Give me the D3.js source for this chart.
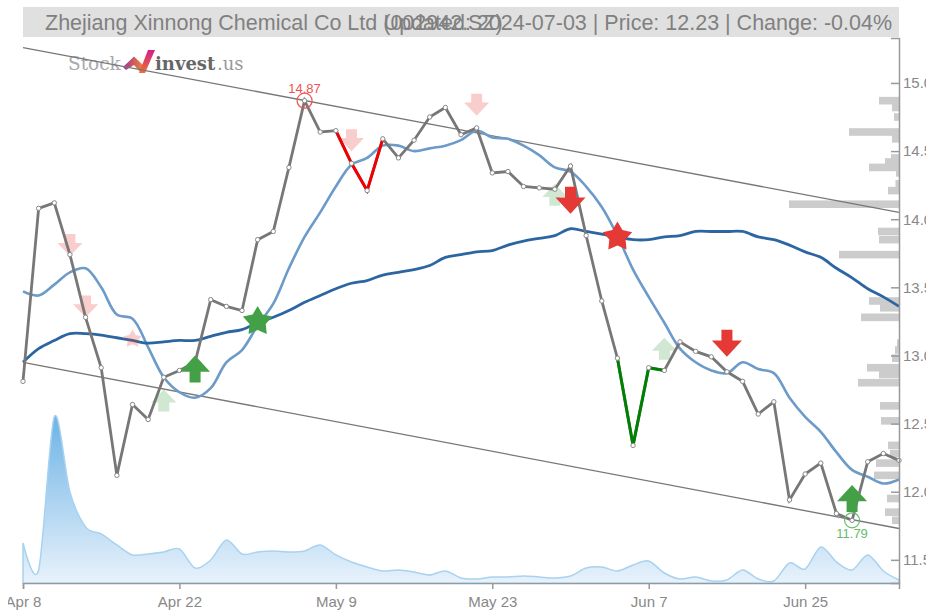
<!DOCTYPE html>
<html>
<head>
<meta charset="utf-8">
<style>
  html, body { margin: 0; padding: 0; background: #fff; }
  svg { display: block; font-family: "Liberation Sans", sans-serif; }
  .axis text { fill: #888; font-size: 15px; }
  .axis path, .axis line { stroke: #999; stroke-width: 1.5px; }
</style>
</head>
<body>
<div id="canvas"></div>
<script src="https://cdn.jsdelivr.net/npm/d3@7"></script>
<script>
const tickIndex = [0, 10, 20, 30, 40, 50]
const tickLabels = ["Apr 8", "Apr 22", "May 9", "May 23", "Jun 7", "Jun 25"]
const priceTicks = [11.5, 12, 12.5, 13, 13.5, 14, 14.5, 15]

const close = [12.81, 14.08, 14.12, 13.74, 13.28, 12.91, 12.12, 12.64, 12.53, 12.84,
    12.89, 12.95, 13.41, 13.36, 13.33, 13.85, 13.91, 14.38, 14.87, 14.64,
    14.65, 14.41, 14.21, 14.59, 14.45, 14.58, 14.75, 14.82, 14.62, 14.67,
    14.34, 14.35, 14.24, 14.23, 14.22, 14.39, 13.88, 13.40, 12.98, 12.34,
    12.91, 12.89, 13.10, 13.03, 12.99, 12.88, 12.81, 12.57, 12.66, 11.94,
    12.13, 12.21, 11.84, 11.79, 12.22, 12.28, 12.23]

const maFast = [13.47, 13.44, 13.52, 13.61, 13.64, 13.50, 13.30, 13.27, 13.06, 12.84,
    12.73, 12.69, 12.76, 12.95, 13.04, 13.22, 13.38, 13.64, 13.87, 14.05,
    14.24, 14.40, 14.45, 14.54, 14.54, 14.50, 14.52, 14.54, 14.58, 14.65,
    14.60, 14.59, 14.54, 14.47, 14.38, 14.35, 14.24, 14.09, 13.88, 13.63,
    13.43, 13.24, 13.05, 12.95, 12.89, 12.87, 12.95, 12.90, 12.87, 12.69,
    12.55, 12.44, 12.29, 12.16, 12.11, 12.06, 12.09]

const maSlow = [12.95, 13.05, 13.11, 13.16, 13.16, 13.15, 13.13, 13.11, 13.09, 13.10,
    13.11, 13.11, 13.14, 13.17, 13.19, 13.24, 13.28, 13.33, 13.39, 13.44,
    13.49, 13.53, 13.55, 13.59, 13.61, 13.63, 13.66, 13.72, 13.74, 13.76,
    13.77, 13.81, 13.84, 13.86, 13.88, 13.93, 13.91, 13.89, 13.87, 13.85,
    13.85, 13.87, 13.88, 13.91, 13.91, 13.91, 13.91, 13.87, 13.85, 13.81,
    13.76, 13.72, 13.64, 13.57, 13.49, 13.43, 13.36]

// volume, relative units
const volume = [40, 13, 166, 91, 56, 49, 38, 28, 29, 31,
    34, 15, 23, 43, 29, 31, 32, 31, 32, 38,
    28, 21, 16, 12, 13, 11, 8, 12, 5, 4,
    6, 6, 7, 6, 5, 7, 15, 16, 12, 18,
    22, 10, 4, 6, 2, 3, 13, 4, 2, 20,
    14, 36, 21, 13, 28, 12, 3]

const profilePrice = [14.87, 14.82, 14.75, 14.64, 14.59, 14.45, 14.42, 14.38, 14.34, 14.26, 14.21,
    14.11, 13.91, 13.85, 13.74, 13.40, 13.35, 13.28, 13.09, 13.04, 12.98, 12.91,
    12.86, 12.80, 12.63, 12.52, 12.34, 12.28, 12.21, 12.12, 11.95, 11.85, 11.79]
const profileVolume = [20, 7, 5, 50, 7, 8, 14, 30, 3, 3.5, 11,
    110, 21, 20, 60, 30, 19, 38, 2, 4, 7, 32,
    20, 41, 19, 18, 11, 9, 23, 25, 12, 14, 7]

const trendUpper = [15.26, 14.05]
const trendLower = [12.95, 11.73]

const redRun = [20, 21, 22, 23]
const greenRun = [38, 39, 40, 41]

const fadedDownIndex = [3, 4, 21, 29]
const fadedDownPrice = [13.81, 13.36, 14.58, 14.84]
const fadedUpIndex = [9, 34, 41]
const fadedUpPrice = [12.67, 14.18, 13.05]
const strongDownIndex = [35, 45]
const strongDownPrice = [14.14, 13.09]
const strongUpIndex = [11, 53]
const strongUpPrice = [12.90, 11.95]
const fadedStarIndex = [7]
const fadedStarPrice = [13.12]
const redStarIndex = [38]
const redStarPrice = [13.87]
const greenStarIndex = [15]
const greenStarPrice = [13.25]

const width = 926
const height = 610
const margin = { top: 38, left: 23, bottom: 27, right: 27 }
const plotRight = width - margin.right
const plotBottom = height - margin.bottom

const svg = d3.select("#canvas").append("svg")
    .attr("width", width)
    .attr("height", height)

const x = d3.scaleLinear()
    .domain([0, close.length - 1])
    .range([margin.left, plotRight])

const y = d3.scaleLinear()
    .domain([11.33, 15.33])
    .range([plotBottom, margin.top])

const yVolume = d3.scaleLinear()
    .domain([0, 166])
    .range([plotBottom, 416.7])

const xProfile = d3.scaleLinear()
    .domain([0, 110])
    .range([plotRight, plotRight - 110])

const defs = svg.append("defs")

function addGradient(id, x2, y2, from, to) {
    const grad = defs.append("linearGradient")
        .attr("id", id)
        .attr("x1", 0).attr("y1", 0).attr("x2", x2).attr("y2", y2)
    grad.append("stop").attr("offset", "0%").attr("stop-color", from)
    grad.append("stop").attr("offset", "100%").attr("stop-color", to)
}

addGradient("volumeFill", 0, 1, "#6db3e6", "#e8f2fb")
addGradient("logoLeft", 1, 0, "#a4309c", "#f4862c")
addGradient("logoSlash", 0, 1, "#d0208c", "#f07030")

defs.append("clipPath").attr("id", "tickClip")
    .append("rect").attr("x", 8).attr("y", 0).attr("width", width).attr("height", height)

// title strip
svg.append("rect")
    .attr("x", margin.left).attr("y", 7)
    .attr("width", plotRight - margin.left).attr("height", 30)
    .attr("fill", "#e0e0e0")

svg.append("text")
    .attr("x", 45).attr("y", 30)
    .attr("fill", "#808080").attr("font-size", 21.5)
    .text("Zhejiang Xinnong Chemical Co Ltd (002942.SZ)")

svg.append("text")
    .attr("x", 892).attr("y", 30)
    .attr("text-anchor", "end")
    .attr("fill", "#808080").attr("font-size", 21.5)
    .text("Updated: 2024-07-03 | Price: 12.23 | Change: -0.04%")

// logo
const logo = svg.append("g")
logo.append("text").attr("x", 68).attr("y", 70)
    .attr("font-family", "DejaVu Serif").attr("font-size", 18.5).attr("fill", "#aaa")
    .text("Stock")
logo.append("text").attr("x", 155).attr("y", 70)
    .attr("font-family", "DejaVu Serif").attr("font-weight", "bold").attr("font-size", 18).attr("fill", "#666")
    .text("invest")
logo.append("text").attr("x", 217).attr("y", 70)
    .attr("font-family", "DejaVu Serif").attr("font-size", 18).attr("fill", "#999")
    .text(".us")
logo.append("path").attr("fill", "url(#logoLeft)").attr("d", "M123 67 L134 56.5 L144 66 L141 73 L134 65 L126 70 Z")
logo.append("path").attr("fill", "url(#logoSlash)").attr("d", "M139 73 L148 50 L155 50 L145 73 Z")

// volume area
const volumeArea = d3.area()
    .x((d, i) => x(i))
    .y0(plotBottom)
    .y1(d => yVolume(d))
    .curve(d3.curveCardinal.tension(0.1))

svg.append("path")
    .datum(volume)
    .attr("d", volumeArea)
    .attr("fill", "url(#volumeFill)")
    .attr("stroke", "#a8d2f0")
    .attr("stroke-width", 1.5)

// volume at price
svg.append("g").selectAll("rect")
    .data(profilePrice)
    .join("rect")
    .attr("x", (d, i) => xProfile(profileVolume[i]))
    .attr("y", d => y(d) - 3.8)
    .attr("width", (d, i) => plotRight - xProfile(profileVolume[i]))
    .attr("height", 7.6)
    .attr("fill", "#cccccc")

// channel
const trendLine = d3.line()
    .x((d, i) => x(i * (close.length - 1)))
    .y(d => y(d))

svg.append("g").selectAll("path")
    .data([trendUpper, trendLower])
    .join("path")
    .attr("d", trendLine)
    .attr("fill", "none")
    .attr("stroke", "#777")
    .attr("stroke-width", 1.3)

// moving averages
const maLine = d3.line()
    .x((d, i) => x(i))
    .y(d => y(d))
    .curve(d3.curveCatmullRom)

svg.append("path").datum(maFast).attr("d", maLine)
    .attr("fill", "none").attr("stroke", "#6c9bc9").attr("stroke-width", 2.6)
svg.append("path").datum(maSlow).attr("d", maLine)
    .attr("fill", "none").attr("stroke", "#2c66a2").attr("stroke-width", 2.8)

// markers
function arrowPath(w, h, up) {
    const s = up ? -1 : 1
    const shaftW = 5.5
    const head = h * 0.6
    return d3.line()([
        [-shaftW, -s * h / 2],
        [shaftW, -s * h / 2],
        [shaftW, s * (h / 2 - head)],
        [w / 2, s * (h / 2 - head)],
        [0, s * h / 2],
        [-w / 2, s * (h / 2 - head)],
        [-shaftW, s * (h / 2 - head)]
    ]) + "Z"
}

// fatter than d3.symbolStar
function starPath(r) {
    const pts = d3.range(10).map(k => {
        const a = k * Math.PI / 5
        const rr = k % 2 ? r * 0.55 : r
        return [rr * Math.sin(a), -rr * Math.cos(a)]
    })
    return d3.line()(pts) + "Z"
}

function drawMarks(index, price, shape, color, opacity) {
    svg.append("g").selectAll("path")
        .data(index)
        .join("path")
        .attr("d", shape)
        .attr("transform", (d, i) => `translate(${x(d)}, ${y(price[i])})`)
        .attr("fill", color)
        .attr("fill-opacity", opacity)
}

drawMarks(fadedDownIndex, fadedDownPrice, arrowPath(25, 22, false), "#e53935", 0.25)
drawMarks(fadedUpIndex, fadedUpPrice, arrowPath(25, 22, true), "#43a047", 0.25)
drawMarks(fadedStarIndex, fadedStarPrice, starPath(9.5), "#e53935", 0.25)

// price line
const priceLine = d3.line()
    .x(d => x(d))
    .y(d => y(close[d]))

svg.append("path")
    .datum(d3.range(close.length))
    .attr("d", priceLine)
    .attr("fill", "none").attr("stroke", "#777").attr("stroke-width", 2.8)

svg.append("path").datum(redRun).attr("d", priceLine)
    .attr("fill", "none").attr("stroke", "#f00000").attr("stroke-width", 3)
svg.append("path").datum(greenRun).attr("d", priceLine)
    .attr("fill", "none").attr("stroke", "#008000").attr("stroke-width", 3)

svg.append("g").selectAll("circle")
    .data(close)
    .join("circle")
    .attr("cx", (d, i) => x(i))
    .attr("cy", d => y(d))
    .attr("r", 2.2)
    .attr("fill", "#fff")
    .attr("stroke", "#888")
    .attr("stroke-width", 1)

drawMarks(strongDownIndex, strongDownPrice, arrowPath(30, 27, false), "#e53935", 1)
drawMarks(strongUpIndex, strongUpPrice, arrowPath(30, 27, true), "#43a047", 1)
drawMarks(redStarIndex, redStarPrice, starPath(15.5), "#e53935", 1)
drawMarks(greenStarIndex, greenStarPrice, starPath(15.5), "#43a047", 1)

// high and low
const hiIndex = d3.maxIndex(close)
const loIndex = d3.minIndex(close)

svg.append("circle")
    .attr("cx", x(hiIndex)).attr("cy", y(close[hiIndex])).attr("r", 7.5)
    .attr("fill", "none").attr("stroke", "#ef5350").attr("stroke-width", 1.2)
svg.append("text")
    .attr("x", x(hiIndex)).attr("y", y(close[hiIndex]) - 8)
    .attr("text-anchor", "middle").attr("font-size", 13).attr("fill", "#ef5350")
    .text(d3.format(".2f")(close[hiIndex]))

svg.append("circle")
    .attr("cx", x(loIndex)).attr("cy", y(close[loIndex])).attr("r", 7.5)
    .attr("fill", "none").attr("stroke", "#66bb6a").attr("stroke-width", 1.2)
svg.append("text")
    .attr("x", x(loIndex)).attr("y", y(close[loIndex]) + 18)
    .attr("text-anchor", "middle").attr("font-size", 13).attr("fill", "#66bb6a")
    .text(d3.format(".2f")(close[loIndex]))

// axes
svg.append("g")
    .attr("class", "axis")
    .attr("clip-path", "url(#tickClip)")
    .attr("transform", `translate(0, ${plotBottom})`)
    .call(d3.axisBottom(x)
        .tickValues(tickIndex)
        .tickFormat((d, i) => tickLabels[i])
        .tickSize(6)
        .tickPadding(7))

const yAxis = svg.append("g")
    .attr("class", "axis")
    .attr("transform", `translate(${plotRight}, 0)`)
    .call(d3.axisLeft(y)
        .tickValues(priceTicks)
        .tickFormat(d3.format(".1f"))
        .tickSize(8))

yAxis.selectAll("text")
    .attr("text-anchor", "start")
    .attr("x", 4)
</script>
</body>
</html>
